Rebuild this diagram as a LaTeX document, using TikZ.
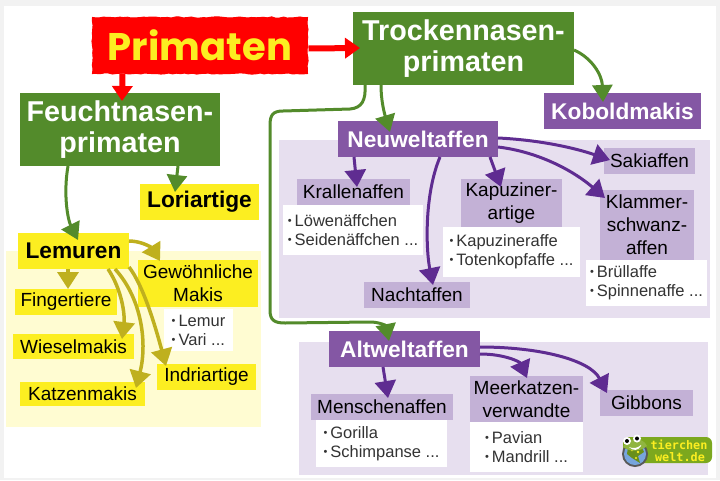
\documentclass[tikz,border=0pt]{standalone}
\usepackage{fontspec}
\setmainfont{Liberation Sans}
\newfontfamily\primfont{Poppins}
\newfontfamily\logofont{DejaVu Sans Mono}
\usetikzlibrary{arrows.meta,decorations.pathmorphing}
\definecolor{cgreen}{HTML}{538B2B}
\definecolor{cpurple}{HTML}{8457A4}
\definecolor{cparrow}{HTML}{5F2C91}
\definecolor{clabel}{HTML}{C3B1D6}
\definecolor{cpbg}{HTML}{E7DFEF}
\definecolor{cyel}{HTML}{FCEE21}
\definecolor{cybg}{HTML}{FFFCD2}
\definecolor{cyarrow}{HTML}{BFB01E}
\definecolor{cpage}{HTML}{F2F2F2}
\definecolor{clist}{HTML}{333333}
\definecolor{clogo}{HTML}{7CA81E}
\newcommand{\bx}[7]{\node[#2,minimum width={(#5-#3)*1pt},minimum height={(#6-#4)*1pt}] (#1) at ({(#3+#5)/2},{(#4+#6)/2}) {#7};}
\newcommand{\lb}{\raisebox{.12em}{\fontsize{11}{11}\selectfont •}\hspace{3pt}}
% a point on a node, given as offset from its upper left corner
\newcommand{\on}[3]{([xshift=#2pt,yshift=-#3pt]#1.north west)}
\tikzset{
 x=1pt,y=-1pt,
 base/.style={inner sep=0pt,outer sep=0pt,align=center},
 bgp/.style={base,fill=cpbg},
 bgy/.style={base,fill=cybg},
 head/.style={base,fill=cgreen,text=white,font=\bfseries\fontsize{28.7}{31}\selectfont},
 pur/.style={base,fill=cpurple,text=white,font=\bfseries\fontsize{22.7}{25}\selectfont},
 lab/.style={base,fill=clabel,text=black,font=\fontsize{19}{23}\selectfont},
 yel/.style={base,fill=cyel,text=black,font=\fontsize{19}{23}\selectfont},
 yelb/.style={base,fill=cyel,text=black,font=\bfseries\fontsize{22.7}{25}\selectfont},
 lst/.style={base,fill=white,text=clist,align=left,font=\fontsize{16.5}{19}\selectfont},
 ag/.style={draw=cgreen,line width=3pt,-{Triangle[length=17pt,width=20pt,fill=cgreen]}},
 ap/.style={draw=cparrow,line width=3pt,-{Triangle[length=17pt,width=21pt,fill=cparrow]}},
 ay/.style={draw=cyarrow,line width=3.5pt,-{Triangle[length=17pt,width=21pt,fill=cyarrow]}},
 ar/.style={draw=red,line width=6pt,-{Triangle[length=15pt,width=20pt,fill=red]}},
}
\begin{document}
\begin{tikzpicture}
\useasboundingbox (0,0) rectangle (720,480);
\fill[cpage] (0,0) rectangle (720,480);
\fill[white] (4,6) rectangle (716,478);
% backgrounds
\bx{bgLem}{bgy}{6}{251}{261}{427}{}
\bx{bgNeu}{bgp}{279}{140}{710}{318}{}
\bx{bgAlt}{bgp}{299}{342}{708}{475}{}
% title
\node[base,fill=red,draw=red,line width=1pt,decorate,decoration={random steps,segment length=4pt,amplitude=.6pt},minimum width=215pt,minimum height=56pt,text=cyel,font=\primfont\bfseries\fontsize{38.5}{38.5}\selectfont] (prim) at (200,45.5) {Primaten};
\bx{trock}{head}{353}{12}{574}{85}{Trockennasen-\\primaten}
\bx{feucht}{head}{20}{93}{220}{166}{Feuchtnasen-\\primaten}
\bx{lori}{yelb}{140}{184}{259}{220}{Loriartige}
\bx{lem}{yelb}{18}{233}{129}{269}{Lemuren}
\bx{fing}{yel}{15}{289}{117}{315}{Fingertiere}
\bx{wies}{yel}{13}{334}{134}{359}{Wieselmakis}
\bx{katz}{yel}{20}{382}{145}{406}{Katzenmakis}
\bx{gew}{yel}{138}{260}{258}{307}{Gewöhnliche\\Makis}
\bx{lemL}{lst}{164}{309}{233}{351}{\lb Lemur\\\lb Vari ...}
\bx{indri}{yel}{157}{364}{256}{390}{Indriartige}
\bx{kobold}{pur}{544}{93}{701}{129}{Koboldmakis}
\bx{neu}{pur}{338}{121}{498}{157}{Neuweltaffen}
\bx{saki}{lab}{604}{148}{695}{174}{Sakiaffen}
\bx{krall}{lab}{297}{179}{410}{205}{Krallenaffen}
\bx{krallL}{lst}{283}{205}{423}{255}{\lb Löwenäffchen\\\lb Seidenäffchen ...}
\bx{kapu}{lab}{461}{179}{562}{227}{Kapuziner-\\artige}
\bx{kapuL}{lst}{443}{227}{580}{277}{\lb Kapuzineraffe\\\lb Totenkopfaffe ...}
\bx{klam}{lab}{600}{190}{694}{260}{Klammer-\\schwanz-\\affen}
\bx{klamL}{lst}{586}{260}{707}{306}{\lb Brüllaffe\\\lb Spinnenaffe ...}
\bx{nacht}{lab}{364}{282}{470}{308}{Nachtaffen}
\bx{alt}{pur}{329}{331}{480}{367}{Altweltaffen}
\bx{mensch}{lab}{311}{394}{453}{420}{Menschenaffen}
\bx{menschL}{lst}{316}{420}{447}{467}{\lb Gorilla\\\lb Schimpanse ...}
\bx{meer}{lab}{470}{376}{583}{422}{Meerkatzen-\\verwandte}
\bx{meerL}{lst}{470}{422}{583}{472}{\lb Pavian\\\lb Mandrill ...}
\bx{gib}{lab}{600}{390}{693}{416}{Gibbons}
% red connectors
\draw[ar] \on{prim}{216}{31} -- \on{trock}{7}{36};
\draw[ar] \on{prim}{30}{56} -- \on{feucht}{102}{8};
% green connectors
\draw[ag] \on{feucht}{48}{73} .. controls (63,195) and (68,220) .. \on{lem}{60}{7};
\draw[ag] \on{feucht}{158}{73} -- \on{lori}{35}{8};
\draw[ag] \on{trock}{221}{38} .. controls (592,58) and (602,75) .. \on{kobold}{59}{9};
\draw[ag] \on{trock}{28}{73} .. controls (381,100) and (384,112) .. \on{neu}{52}{11};
\draw[ag] \on{trock}{12}{73} .. controls (366,100) and (362,108) .. (350,109) -- (283,111) .. controls (273,111) and (270,115) .. (270,125) -- (270,310) .. controls (270,320) and (274,323) .. (285,323) -- (370,322) .. controls (380,322) and (386,326) .. \on{alt}{60}{10};
% yellow connectors
\draw[ay] \on{lem}{50}{36} -- \on{fing}{53}{0};
\draw[ay] \on{lem}{90}{36} .. controls (122,290) and (125,315) .. \on{wies}{109}{5};
\draw[ay] \on{lem}{97}{36} .. controls (143,300) and (147,345) .. \on{katz}{116}{6};
\draw[ay] \on{lem}{111}{34} .. controls (143,285) and (155,325) .. \on{indri}{9}{2};
\draw[ay] \on{lem}{111}{8} .. controls (142,241) and (152,248) .. \on{gew}{22}{1};
% purple connectors
\draw[ap] \on{neu}{16}{36} -- \on{krall}{60}{8};
\draw[ap] \on{neu}{102}{36} .. controls (424,195) and (426,250) .. \on{nacht}{69}{3};
\draw[ap] \on{neu}{152}{36} -- \on{kapu}{40}{8};
\draw[ap] \on{neu}{160}{17} .. controls (540,140) and (575,148) .. \on{saki}{6}{12};
\draw[ap] \on{neu}{160}{26} .. controls (540,152) and (575,172) .. \on{klam}{5}{8};
\draw[ap] \on{alt}{54}{36} -- \on{mensch}{77}{4};
\draw[ap] \on{alt}{151}{23} .. controls (505,354) and (520,362) .. \on{meer}{57}{2};
\draw[ap] \on{alt}{151}{16} .. controls (540,347) and (590,360) .. \on{gib}{7}{3};
% logo
\fill[clogo,rounded corners=6pt] (623,437) rectangle (712,463);
\fill[black!65] (635,454) circle (13);
\fill[cyan!55!blue!55] (635,454) circle (11);
\fill[clogo!85!black] (628,447) -- (640,444) -- (644,452) -- (638,456) -- (640,463) -- (632,458) -- (627,454) -- cycle;
\fill[cyel] (632,450) circle (1.3) (638,452) circle (1.3) (636,458) circle (1.2);
\fill[clogo!85!white] (623,447) .. controls (627,438) and (643,436) .. (647,446) .. controls (640,452) and (630,452) .. cycle;
\fill[white] (627,441) circle (4) (637,438.5) circle (4);
\fill[black] (627,441) circle (2) (637,438.5) circle (2);
\fill[white] (629,447) .. controls (633,449) and (638,448) .. (641,445) -- (641,446) .. controls (638,451) and (633,451) .. cycle;
\node[base,text=cyel,font=\logofont\bfseries\fontsize{11.8}{11.8}\selectfont] (logoA) at (679,444.5) {tierchen};
\node[base,text=cyel,font=\logofont\bfseries\fontsize{11.8}{11.8}\selectfont] (logoB) at (680,457) {welt.de};
\end{tikzpicture}
\end{document}
